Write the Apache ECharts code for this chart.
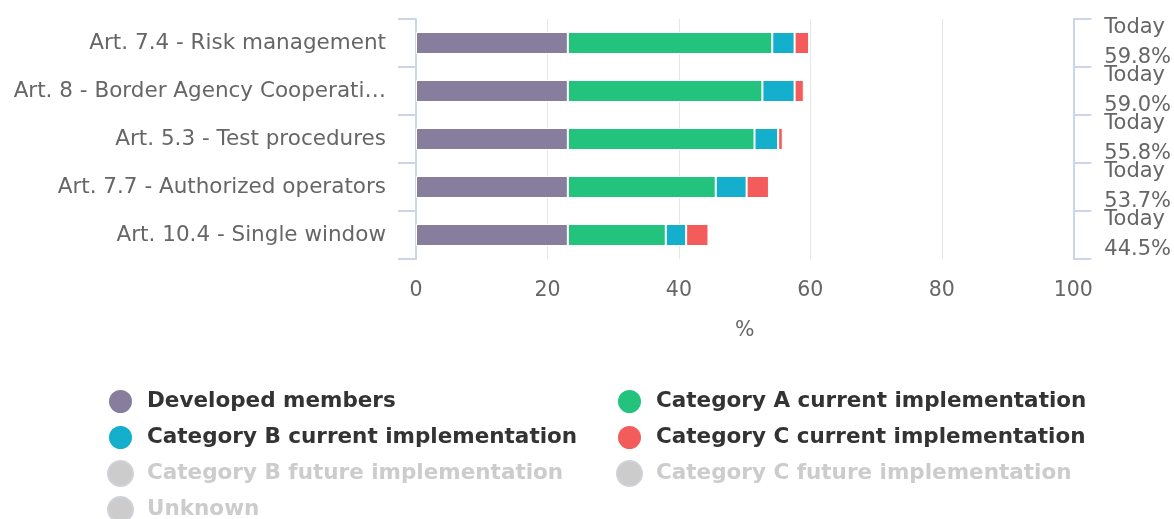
<!DOCTYPE html>
<html>
<head>
<meta charset="utf-8">
<script src="https://cdn.jsdelivr.net/npm/echarts@6/dist/echarts.min.js"></script>
<style>
  html, body { margin: 0; padding: 0; background: #fff; }
  #chart { width: 1174px; height: 519px; }
</style>
</head>
<body>
<div id="chart"></div>
<script>
// measures, top to bottom
const categories = [
  'Art. 7.4 - Risk management',
  'Art. 8 - Border Agency Cooperation',
  'Art. 5.3 - Test procedures',
  'Art. 7.7 - Authorized operators',
  'Art. 10.4 - Single window'
];
const developed = [23.1, 23.1, 23.1, 23.1, 23.1];
const catACurrent = [31.1, 29.6, 28.4, 22.5, 14.9];
const catBCurrent = [3.4, 4.9, 3.6, 4.7, 3.1];
const catCCurrent = [2.2, 1.4, 0.7, 3.4, 3.4];
// hidden in the reference (legend greyed out), values not visible
const catBFuture = [];
const catCFuture = [];
const unknown = [];
// right-hand labels
const totals = [59.8, 59.0, 55.8, 53.7, 44.5];
const xTicks = [0, 20, 40, 60, 80, 100];

const axisColor = '#ccd6eb';
const labelFont = 'DejaVu Sans';

function bar(name, data, color) {
  return {
    name: name,
    type: 'bar',
    stack: 'total',
    barWidth: 22,
    data: data,
    itemStyle: { color: color, borderColor: '#fff', borderWidth: 1 },
    emphasis: { disabled: true }
  };
}

const legendBase = {
  orient: 'vertical',
  icon: 'circle',
  itemWidth: 25,
  itemHeight: 25,
  itemGap: 9,
  top: 383,
  height: 200,
  textStyle: {
    fontFamily: labelFont, fontWeight: 'bold', fontSize: 21.5, color: '#333',
    lineHeight: 25, padding: [0, 0, 0, 9]
  },
  inactiveColor: '#cccccc',
  selected: {
    'Category B future implementation': false,
    'Category C future implementation': false,
    'Unknown': false
  }
};

let myChart = echarts.init(document.getElementById('chart'));
let option = {
  animation: false,
  grid: { left: 416, right: 100, top: 19, height: 240 },
  legend: [
    Object.assign({}, legendBase, {
      left: 102,
      data: ['Developed members', 'Category B current implementation', 'Category B future implementation', 'Unknown']
    }),
    Object.assign({}, legendBase, {
      left: 611,
      data: ['Category A current implementation', 'Category C current implementation', 'Category C future implementation']
    })
  ],
  xAxis: {
    type: 'value',
    min: xTicks[0],
    max: xTicks[xTicks.length - 1],
    interval: 20,
    name: '%',
    nameLocation: 'middle',
    nameGap: 61,
    nameTextStyle: { fontFamily: labelFont, fontSize: 20.5, color: '#666' },
    axisLine: { show: false },
    axisTick: { show: false },
    axisLabel: { fontFamily: labelFont, fontSize: 20.5, color: '#666', margin: 21 },
    splitLine: { lineStyle: { color: '#e6e6e6', width: 1 } }
  },
  yAxis: [
    {
      type: 'category',
      inverse: true,
      data: categories,
      axisLine: { lineStyle: { color: axisColor, width: 2 } },
      axisTick: { show: true, interval: 0, length: 18, lineStyle: { color: axisColor, width: 2 } },
      axisLabel: {
        interval: 0,
        fontFamily: labelFont, fontSize: 21.5, color: '#666', margin: 30,
        width: 376, overflow: 'truncate', ellipsis: '…'
      }
    },
    {
      type: 'category',
      inverse: true,
      position: 'right',
      data: categories,
      axisLine: { lineStyle: { color: axisColor, width: 2 } },
      axisTick: { show: true, interval: 0, length: 18, lineStyle: { color: axisColor, width: 2 } },
      axisLabel: {
        interval: 0, hideOverlap: false,
        fontFamily: labelFont, fontSize: 21, color: '#666', margin: 31,
        lineHeight: 30, align: 'left',
        formatter: function (v, i) { return 'Today\n' + totals[i].toFixed(1) + '%'; }
      }
    }
  ],
  series: [
    bar('Developed members', developed, '#877d9c'),
    bar('Category A current implementation', catACurrent, '#23c27d'),
    bar('Category B current implementation', catBCurrent, '#13afcc'),
    bar('Category C current implementation', catCCurrent, '#f45b5b'),
    bar('Category B future implementation', catBFuture, '#8fdbe9'),
    bar('Category C future implementation', catCFuture, '#f9adad'),
    bar('Unknown', unknown, '#bbbbbb')
  ]
};
myChart.setOption(option, true);
</script>
</body>
</html>
